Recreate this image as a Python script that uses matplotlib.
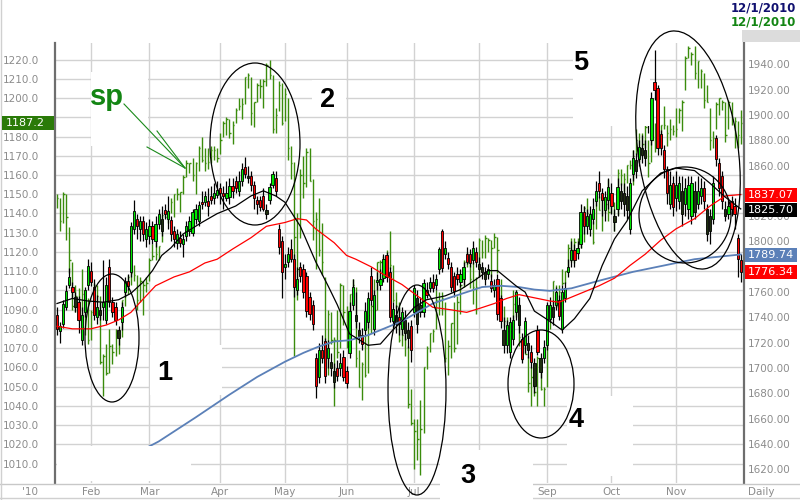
import numpy as np
import matplotlib
matplotlib.use("Agg")
import matplotlib.pyplot as plt
from matplotlib.patches import Ellipse, Rectangle
from matplotlib.lines import Line2D
from matplotlib.transforms import IdentityTransform

# trading-day index of each month start, Jan 14 2010 = 0, Dec 1 2010 = 222
month_pos = [11, 30, 53, 74, 94, 116, 137, 159, 180, 201]
month_names = ["Feb", "Mar", "Apr", "May", "Jun", "Jul", "Aug", "Sep", "Oct", "Nov"]

# "sp" daily bars (left scale): high / low / close
sp_high = [1150, 1148, 1151, 1150, 1133, 1115, 1103, 1101, 1111, 1100, 1096,
           1090, 1104, 1103, 1097, 1067, 1072, 1080, 1072, 1080, 1077, 1095, 1100, 1108, 1112, 1113, 1108, 1107, 1105, 1107,
           1117, 1124, 1125, 1123, 1139, 1141, 1142, 1148, 1150, 1153, 1151, 1160, 1168, 1166, 1169, 1167, 1175, 1180, 1174, 1174, 1175, 1175, 1174,
           1182, 1188, 1190, 1189, 1188, 1195, 1200, 1200, 1211, 1213, 1211, 1198, 1208, 1210, 1210, 1218, 1220, 1212, 1195, 1209, 1208,
           1205, 1200, 1175, 1167, 1140, 1163, 1170, 1174, 1174, 1158, 1141, 1148, 1135, 1107, 1090, 1089, 1076, 1090, 1104, 1103,
           1092, 1098, 1106, 1102, 1069, 1063, 1077, 1087, 1093, 1106, 1115, 1116, 1118, 1121, 1131, 1113, 1099, 1094, 1083, 1082, 1071, 1049,
           1033, 1033, 1043, 1060, 1071, 1078, 1080, 1100, 1099, 1099, 1094, 1074, 1083, 1094, 1097, 1103, 1116, 1120, 1115, 1115, 1107,
           1127, 1126, 1129, 1127, 1126, 1130, 1128, 1106, 1092, 1086, 1080, 1100, 1100, 1093, 1075, 1075, 1066, 1060, 1061, 1066, 1065, 1050,
           1081, 1090, 1105, 1103, 1103, 1111, 1110, 1124, 1127, 1127, 1127, 1131, 1144, 1148, 1140, 1136, 1149, 1149, 1149, 1148, 1158,
           1150, 1146, 1163, 1163, 1161, 1165, 1168, 1173, 1184, 1182, 1182, 1186, 1178, 1182, 1187, 1184, 1186, 1196, 1186, 1189, 1186,
           1195, 1195, 1199, 1222, 1227, 1224, 1227, 1219, 1215, 1213, 1207, 1195, 1183, 1198, 1200, 1199, 1198, 1199, 1198, 1190, 1188,
           1194]
sp_low = [1143, 1131, 1135, 1126, 1109, 1090, 1089, 1084, 1082, 1077, 1072,
          1074, 1088, 1094, 1062, 1045, 1056, 1057, 1062, 1066, 1067, 1076, 1092, 1098, 1103, 1105, 1090, 1094, 1087, 1099,
          1105, 1116, 1116, 1116, 1125, 1138, 1135, 1140, 1138, 1147, 1141, 1150, 1159, 1161, 1157, 1150, 1162, 1167, 1162, 1163, 1166, 1168, 1167,
          1171, 1180, 1181, 1179, 1176, 1187, 1194, 1189, 1197, 1205, 1186, 1185, 1198, 1200, 1195, 1206, 1210, 1182, 1182, 1193, 1186,
          1188, 1168, 1158, 1066, 1095, 1127, 1148, 1154, 1157, 1126, 1111, 1118, 1108, 1072, 1056, 1072, 1040, 1065, 1070, 1082,
          1070, 1069, 1094, 1060, 1050, 1043, 1055, 1057, 1078, 1089, 1090, 1106, 1107, 1114, 1111, 1094, 1091, 1073, 1071, 1066, 1039, 1030,
          1007, 1012, 1004, 1026, 1059, 1068, 1073, 1080, 1087, 1087, 1063, 1056, 1065, 1068, 1072, 1088, 1102, 1112, 1101, 1093, 1088,
          1107, 1117, 1117, 1120, 1107, 1122, 1109, 1088, 1081, 1079, 1069, 1081, 1086, 1071, 1064, 1067, 1047, 1040, 1045, 1040, 1048, 1040,
          1050, 1080, 1091, 1091, 1092, 1103, 1104, 1110, 1115, 1114, 1119, 1122, 1125, 1136, 1132, 1124, 1132, 1142, 1131, 1140, 1136,
          1140, 1131, 1139, 1155, 1151, 1156, 1163, 1155, 1171, 1167, 1173, 1174, 1159, 1167, 1172, 1178, 1177, 1184, 1175, 1178, 1181,
          1180, 1187, 1183, 1204, 1221, 1217, 1210, 1205, 1205, 1195, 1198, 1173, 1174, 1184, 1191, 1194, 1177, 1184, 1186, 1174, 1174,
          1176]
sp_close = [1148, 1136, 1150, 1138, 1116, 1092, 1097, 1092, 1098, 1085, 1074,
            1089, 1103, 1097, 1063, 1066, 1057, 1071, 1068, 1078, 1076, 1095, 1100, 1107, 1109, 1108, 1095, 1105, 1103, 1104,
            1116, 1118, 1119, 1123, 1139, 1138, 1140, 1146, 1150, 1150, 1151, 1159, 1166, 1166, 1160, 1166, 1174, 1168, 1166, 1167, 1173, 1173, 1169,
            1178, 1187, 1189, 1182, 1186, 1194, 1196, 1197, 1211, 1212, 1192, 1198, 1207, 1206, 1209, 1217, 1212, 1184, 1191, 1207, 1187,
            1202, 1174, 1166, 1128, 1111, 1160, 1156, 1172, 1157, 1136, 1137, 1121, 1115, 1072, 1088, 1074, 1074, 1068, 1103, 1089,
            1071, 1098, 1103, 1065, 1050, 1062, 1056, 1087, 1092, 1090, 1115, 1115, 1116, 1118, 1113, 1095, 1092, 1074, 1077, 1075, 1041, 1031,
            1027, 1023, 1028, 1060, 1070, 1078, 1079, 1095, 1095, 1096, 1065, 1071, 1083, 1070, 1094, 1103, 1115, 1114, 1106, 1102, 1102,
            1126, 1120, 1127, 1126, 1122, 1128, 1121, 1089, 1084, 1079, 1079, 1093, 1094, 1076, 1072, 1067, 1052, 1055, 1047, 1065, 1049, 1049,
            1080, 1090, 1105, 1092, 1099, 1104, 1110, 1122, 1121, 1125, 1125, 1126, 1143, 1140, 1134, 1125, 1149, 1142, 1148, 1145, 1141,
            1146, 1137, 1161, 1160, 1158, 1165, 1165, 1170, 1178, 1174, 1176, 1185, 1166, 1178, 1180, 1183, 1186, 1186, 1182, 1184, 1183,
            1184, 1194, 1198, 1221, 1226, 1223, 1213, 1219, 1214, 1199, 1198, 1178, 1179, 1197, 1200, 1198, 1181, 1198, 1189, 1188, 1181,
            1187.2]

# candles (right scale)
c_open = [1742, 1729, 1735, 1748, 1766, 1764, 1748, 1752, 1722, 1744, 1766,
          1777, 1764, 1740, 1742, 1748, 1738, 1780, 1752, 1748, 1724, 1736, 1760, 1769, 1776, 1810, 1818, 1810, 1816, 1802,
          1804, 1812, 1800, 1814, 1808, 1825, 1818, 1817, 1808, 1799, 1803, 1798, 1804, 1808, 1807, 1818, 1816, 1831, 1831, 1832, 1836, 1834, 1837,
          1842, 1838, 1834, 1835, 1844, 1848, 1840, 1848, 1859, 1850, 1852, 1845, 1833, 1833, 1836, 1822, 1833, 1845, 1850, 1810, 1800,
          1780, 1784, 1794, 1786, 1762, 1780, 1778, 1773, 1756, 1750, 1708, 1693, 1714, 1721, 1708, 1700, 1689, 1700, 1700, 1709,
          1698, 1712, 1750, 1737, 1725, 1726, 1730, 1736, 1773, 1731, 1768, 1766, 1771, 1789, 1776, 1737, 1735, 1740, 1731, 1728, 1724, 1733,
          1744, 1735, 1744, 1744, 1762, 1763, 1768, 1766, 1778, 1808, 1790, 1787, 1780, 1773, 1774, 1768, 1770, 1790, 1790, 1785, 1792,
          1778, 1776, 1770, 1774, 1769, 1762, 1770, 1755, 1718, 1718, 1713, 1723, 1744, 1734, 1723, 1718, 1714, 1713, 1686, 1730, 1697, 1708,
          1718, 1739, 1740, 1750, 1754, 1731, 1755, 1776, 1785, 1793, 1791, 1798, 1823, 1812, 1810, 1818, 1832, 1846, 1838, 1825, 1833,
          1838, 1815, 1826, 1832, 1830, 1825, 1810, 1853, 1856, 1865, 1868, 1866, 1899, 1880, 1926, 1921, 1885, 1872, 1857, 1830, 1846,
          1834, 1832, 1822, 1830, 1826, 1820, 1823, 1830, 1836, 1842, 1806, 1808, 1818, 1882, 1862, 1852, 1820, 1822, 1832, 1828, 1803,
          1785]
c_high = [1748, 1736, 1754, 1766, 1779, 1768, 1760, 1757, 1748, 1764, 1786,
          1784, 1770, 1758, 1752, 1785, 1772, 1786, 1756, 1752, 1733, 1752, 1772, 1774, 1815, 1833, 1822, 1820, 1820, 1815,
          1818, 1816, 1820, 1826, 1828, 1830, 1836, 1820, 1812, 1810, 1808, 1806, 1816, 1820, 1826, 1830, 1832, 1840, 1840, 1842, 1844, 1846, 1848,
          1846, 1844, 1848, 1850, 1850, 1852, 1856, 1862, 1867, 1860, 1856, 1848, 1836, 1836, 1842, 1830, 1846, 1856, 1856, 1814, 1804,
          1790, 1796, 1802, 1790, 1780, 1784, 1782, 1776, 1760, 1754, 1712, 1720, 1726, 1724, 1722, 1712, 1704, 1706, 1712, 1714,
          1702, 1752, 1770, 1760, 1736, 1732, 1752, 1760, 1780, 1762, 1776, 1778, 1790, 1792, 1780, 1752, 1750, 1748, 1748, 1746, 1736, 1738,
          1766, 1762, 1756, 1770, 1768, 1772, 1774, 1774, 1796, 1810, 1800, 1792, 1784, 1776, 1780, 1778, 1784, 1796, 1794, 1800, 1796,
          1788, 1784, 1780, 1782, 1774, 1770, 1774, 1758, 1740, 1738, 1740, 1742, 1762, 1756, 1728, 1740, 1726, 1718, 1708, 1734, 1712, 1722,
          1752, 1756, 1754, 1764, 1758, 1766, 1768, 1786, 1800, 1798, 1800, 1830, 1828, 1826, 1828, 1834, 1848, 1856, 1842, 1840, 1850,
          1846, 1826, 1850, 1846, 1846, 1844, 1850, 1872, 1870, 1880, 1884, 1880, 1904, 1918, 1951, 1924, 1888, 1876, 1860, 1856, 1852,
          1856, 1852, 1852, 1850, 1852, 1852, 1848, 1852, 1850, 1848, 1830, 1826, 1852, 1884, 1866, 1856, 1832, 1834, 1836, 1834, 1806,
          1790]
c_low = [1726, 1720, 1732, 1746, 1763, 1755, 1744, 1728, 1718, 1740, 1762,
         1765, 1738, 1735, 1738, 1738, 1735, 1748, 1740, 1734, 1718, 1730, 1756, 1762, 1772, 1806, 1802, 1800, 1800, 1796,
         1798, 1798, 1796, 1810, 1804, 1818, 1810, 1800, 1796, 1794, 1796, 1788, 1800, 1804, 1804, 1814, 1812, 1826, 1828, 1820, 1830, 1830, 1834,
         1830, 1826, 1832, 1830, 1834, 1838, 1836, 1844, 1850, 1846, 1840, 1826, 1822, 1824, 1824, 1818, 1830, 1842, 1836, 1790, 1755,
         1770, 1780, 1784, 1756, 1758, 1768, 1755, 1740, 1738, 1730, 1676, 1688, 1704, 1688, 1700, 1694, 1684, 1690, 1694, 1690,
         1684, 1708, 1746, 1732, 1720, 1714, 1726, 1732, 1750, 1726, 1762, 1762, 1768, 1768, 1736, 1732, 1728, 1726, 1726, 1722, 1716, 1705,
         1740, 1728, 1740, 1740, 1755, 1760, 1760, 1762, 1774, 1776, 1786, 1778, 1760, 1756, 1766, 1764, 1766, 1782, 1780, 1782, 1780,
         1772, 1770, 1766, 1770, 1760, 1756, 1738, 1732, 1712, 1712, 1708, 1718, 1738, 1728, 1704, 1712, 1708, 1700, 1680, 1710, 1692, 1704,
         1714, 1736, 1734, 1746, 1738, 1728, 1752, 1772, 1780, 1780, 1786, 1795, 1806, 1806, 1804, 1814, 1828, 1834, 1820, 1816, 1826,
         1822, 1808, 1820, 1826, 1820, 1818, 1806, 1848, 1850, 1860, 1862, 1860, 1886, 1876, 1912, 1868, 1868, 1850, 1830, 1826, 1820,
         1824, 1826, 1812, 1820, 1818, 1814, 1818, 1826, 1830, 1826, 1800, 1798, 1814, 1860, 1836, 1826, 1816, 1818, 1820, 1810, 1772,
         1768]
c_close = [1731, 1733, 1751, 1761, 1772, 1760, 1756, 1738, 1742, 1762, 1781,
           1768, 1742, 1748, 1746, 1752, 1766, 1752, 1744, 1738, 1730, 1748, 1769, 1765, 1812, 1824, 1812, 1816, 1806, 1810,
           1812, 1802, 1814, 1822, 1818, 1822, 1824, 1806, 1802, 1806, 1799, 1802, 1812, 1816, 1823, 1826, 1829, 1830, 1836, 1828, 1833, 1838, 1841,
           1838, 1836, 1838, 1844, 1840, 1842, 1848, 1857, 1853, 1852, 1845, 1834, 1830, 1827, 1826, 1825, 1843, 1853, 1840, 1796, 1776,
           1782, 1790, 1786, 1764, 1770, 1773, 1760, 1745, 1743, 1735, 1686, 1714, 1708, 1694, 1716, 1705, 1698, 1694, 1704, 1693,
           1688, 1745, 1764, 1742, 1730, 1719, 1745, 1755, 1754, 1758, 1769, 1770, 1786, 1772, 1740, 1747, 1742, 1735, 1744, 1738, 1730, 1714,
           1763, 1755, 1750, 1767, 1758, 1768, 1763, 1770, 1794, 1779, 1795, 1782, 1764, 1761, 1770, 1774, 1780, 1784, 1783, 1795, 1784,
           1782, 1780, 1776, 1778, 1763, 1766, 1743, 1737, 1730, 1734, 1736, 1738, 1760, 1750, 1707, 1737, 1720, 1705, 1704, 1713, 1708, 1717,
           1750, 1750, 1748, 1760, 1741, 1760, 1763, 1780, 1793, 1785, 1795, 1823, 1812, 1820, 1822, 1826, 1840, 1840, 1833, 1835, 1843,
           1828, 1820, 1843, 1840, 1838, 1836, 1846, 1866, 1864, 1875, 1874, 1872, 1893, 1913, 1920, 1874, 1874, 1857, 1838, 1845, 1827,
           1845, 1846, 1840, 1842, 1845, 1846, 1840, 1840, 1842, 1832, 1826, 1820, 1846, 1865, 1842, 1832, 1826, 1828, 1826, 1822, 1786,
           1776]

# moving averages as drawn on the chart (trading-day index, value on right scale)
red_x = [0, 5, 11, 16, 20, 24, 27, 32, 38, 43, 48, 52, 57, 63, 68, 74, 78, 81, 84, 90, 94, 97, 102, 106,
         112, 117, 122, 128, 133, 137, 142, 146, 150, 154, 160, 163, 166, 171, 176, 181, 186, 191, 196, 201, 207, 212, 217, 222]
red_y = [1733, 1731, 1731, 1734, 1738, 1744, 1752, 1765, 1772, 1776, 1783, 1786, 1794, 1803, 1812, 1815, 1818, 1817, 1810, 1799, 1789, 1786, 1780, 1774,
         1766, 1757, 1748, 1746, 1744, 1747, 1751, 1755, 1758, 1756, 1753, 1752, 1755, 1760, 1765, 1771, 1781, 1790, 1801, 1810, 1818, 1828, 1836, 1837.07]
blue_x = [12, 22, 33, 45, 56, 65, 74, 80, 85, 90, 95, 101, 106, 112, 117, 122, 128, 133, 138, 144,
          150, 155, 160, 167, 176, 187, 197, 207, 215, 222]
blue_y = [1613, 1628, 1642, 1661, 1679, 1693, 1705, 1712, 1717, 1721, 1722, 1726, 1731, 1737, 1744, 1751, 1756, 1760, 1764, 1765,
          1764, 1762, 1761, 1763, 1769, 1776, 1781, 1786, 1788, 1789.74]
black_x = [0, 5, 10, 15, 20, 24, 28, 31, 34, 37, 41, 47, 52, 58, 63, 67, 71, 74, 79, 84, 88, 91, 95, 101, 105, 109,
           112, 116, 120, 126, 131, 136, 140, 143, 146, 149, 152, 155, 160, 164, 168, 173, 177, 181, 185, 190, 196, 201, 207, 212, 217, 222]
black_y = [1751, 1755, 1753, 1752, 1754, 1759, 1768, 1777, 1789, 1795, 1806, 1815, 1822, 1828, 1836, 1840, 1836, 1831, 1812, 1784, 1765, 1750, 1727, 1718, 1719, 1730,
           1737, 1748, 1754, 1757, 1762, 1770, 1777, 1777, 1771, 1765, 1760, 1745, 1737, 1730, 1739, 1755, 1781, 1802, 1816, 1840, 1854, 1858, 1856, 1846, 1835, 1825.70]

for lst in (sp_high, sp_low, sp_close, c_open, c_high, c_low, c_close):
    assert len(lst) == 223, len(lst)

W, H = 800, 500


def fx(px):
    return px / W


def fy(py):
    return 1 - py / H


fig = plt.figure(figsize=(8, 5), dpi=100)
fig.patch.set_facecolor("white")

ax = fig.add_axes([fx(55), fy(483), (744 - 55) / W, (483 - 43) / H])
ax.set_xlim(-0.65, 223.05)
ax.set_ylim(999.9, 1228.6)
left_ticks = np.arange(1010, 1221, 10)
ax.set_yticks(left_ticks)
# the 1190 label sits under the last-value tag, as in the original
ax.set_yticklabels(["" if v == 1190 else "%.1f" % v for v in left_ticks])
ax.set_xticks(month_pos)
ax.set_xticklabels(month_names)
ax.grid(True, color="#d2d2d2", lw=1)
ax.set_axisbelow(True)
ax.tick_params(axis="y", length=0, pad=11.5, labelcolor="#8c8c8c", labelsize=7.5)
ax.tick_params(axis="x", length=0, pad=3, labelcolor="#8c8c8c", labelsize=7.5)
for s in ("top", "right", "bottom"):
    ax.spines[s].set_visible(False)
ax.spines["left"].set_color("#6e6e6e")
ax.spines["left"].set_linewidth(1.6)

x = np.arange(len(sp_close))

# green "sp" bars
sp_col = "#3a8c0c"
ax.vlines(x, sp_low, sp_high, color=sp_col, lw=1.0, zorder=2)
ax.hlines(sp_close, x, x + 0.45, color=sp_col, lw=1.0, zorder=2)

ax2 = ax.twinx()
ax2.set_xlim(-0.65, 223.05)
ax2.set_ylim(1609.2, 1956.8)
right_ticks = np.arange(1620, 1941, 20)
ax2.set_yticks(right_ticks)
# 1840 and 1780 are covered by the value tags in the original
ax2.set_yticklabels(["" if v in (1840, 1780) else "%.2f" % v for v in right_ticks])
ax2.tick_params(axis="y", length=0, pad=3, labelcolor="#8c8c8c", labelsize=7.5)
for s in ("top", "left", "bottom"):
    ax2.spines[s].set_visible(False)
ax2.spines["right"].set_color("#6e6e6e")
ax2.spines["right"].set_linewidth(1.6)

o = np.array(c_open, float)
c = np.array(c_close, float)
prev = np.r_[c[0], c[:-1]]
up = c >= o
colors = np.where(~up, "#ff0000", np.where(c >= prev, "#00e600", "#1f3010"))
ax2.vlines(x, c_low, c_high, color="black", lw=0.9, zorder=3)
body = np.maximum(np.abs(c - o), 1.2)
ax2.bar(x, body, bottom=np.minimum(o, c), width=0.72, color=colors,
        edgecolor="black", linewidth=0.6, zorder=4)

ax2.plot(blue_x, blue_y, color="#5b80b8", lw=1.3, zorder=5)
ax2.plot(red_x, red_y, color="#ff0000", lw=0.9, zorder=5)
ax2.plot(black_x, black_y, color="black", lw=0.9, zorder=5)


def frect(x0, y0, x1, y1, color, z=5):
    fig.add_artist(Rectangle((fx(x0), fy(y1)), (x1 - x0) / W, (y1 - y0) / H,
                             transform=fig.transFigure, facecolor=color,
                             edgecolor="none", zorder=z))


def fline(x0, y0, x1, y1, color, lw=1.0, z=5):
    fig.add_artist(Line2D([fx(x0), fx(x1)], [fy(y0), fy(y1)], transform=fig.transFigure,
                          color=color, lw=lw, zorder=z))


# frame lines of the chart window
fline(0, 483.5, 800, 483.5, "#c8c8c8")
fline(0, 498, 800, 498, "#d0d0d0")
fline(1, 0, 1, 500, "#d0d0d0")

# white label boxes of the drawn annotations
for b in [(57, 446, 191, 481), (150, 345, 222, 395), (440, 450, 533, 500),
          (567, 396, 633, 476), (573, 43, 650, 126), (91, 72, 148, 146), (312, 80, 346, 115)]:
    frect(*b, "white", z=5)

# hand-drawn ellipses (pixel centre, width, height, angle)
for cx, cy, w, h, a in [(112, 338, 54, 128, 0), (255, 144, 90, 162, 0), (417, 390, 58, 210, 0),
                        (541, 384, 66, 108, 0), (688, 150, 100, 240, 8), (685, 215, 92, 96, 0)]:
    fig.add_artist(Ellipse((cx, H - cy), w, h, angle=a, transform=IdentityTransform(),
                           fill=False, edgecolor="black", lw=0.9, zorder=6))

# arrow from "sp"
for sx, sy in [(124, 104), (157, 131), (147, 147)]:
    fline(sx, sy, 185, 168, "#1a8a1a", lw=0.8, z=6)

bold = dict(family="Liberation Sans", weight="bold", zorder=7)
fig.text(fx(107), fy(105), "sp", color="#138513", fontsize=21, ha="center", va="baseline", **bold)
for s, px_, py_ in [("1", 165, 380), ("2", 328, 107), ("3", 468, 483), ("4", 576, 427), ("5", 581, 70)]:
    fig.text(fx(px_), fy(py_), s, color="black", fontsize=19.5, ha="center", va="baseline", **bold)

# last-value tags
for val, py_, col in [(1837.07, 195, "#ff0000"), (1825.70, 210, "#000000"),
                      (1789.74, 255, "#5b80b8"), (1776.34, 272, "#ff0000")]:
    frect(745, py_ - 7, 797, py_ + 7, col, z=6)
    fig.text(fx(748), fy(py_), "%.2f" % val, color="white", fontsize=8, ha="left", va="center",
             family="DejaVu Sans", zorder=7)
frect(2, 116, 54, 130, "#2a7a08", z=6)
fig.text(fx(6), fy(123), "%.1f" % sp_close[-1], color="white", fontsize=8, ha="left", va="center",
         family="DejaVu Sans", zorder=7)

# header dates
frect(742, 30, 800, 42, "#dcdcdc", z=6)
fig.text(fx(796), fy(8), "12/1/2010", color="#101070", fontsize=8.5, ha="right", va="center",
         weight="bold", family="DejaVu Sans", zorder=7)
fig.text(fx(796), fy(22), "12/1/2010", color="#138513", fontsize=8.5, ha="right", va="center",
         weight="bold", family="DejaVu Sans", zorder=7)

fig.text(fx(30), fy(492), "'10", color="#8c8c8c", fontsize=7.5, ha="center", va="center")
fig.text(fx(761), fy(492), "Daily", color="#8c8c8c", fontsize=7.5, ha="center", va="center")

fig.savefig("out.png", dpi=100)
